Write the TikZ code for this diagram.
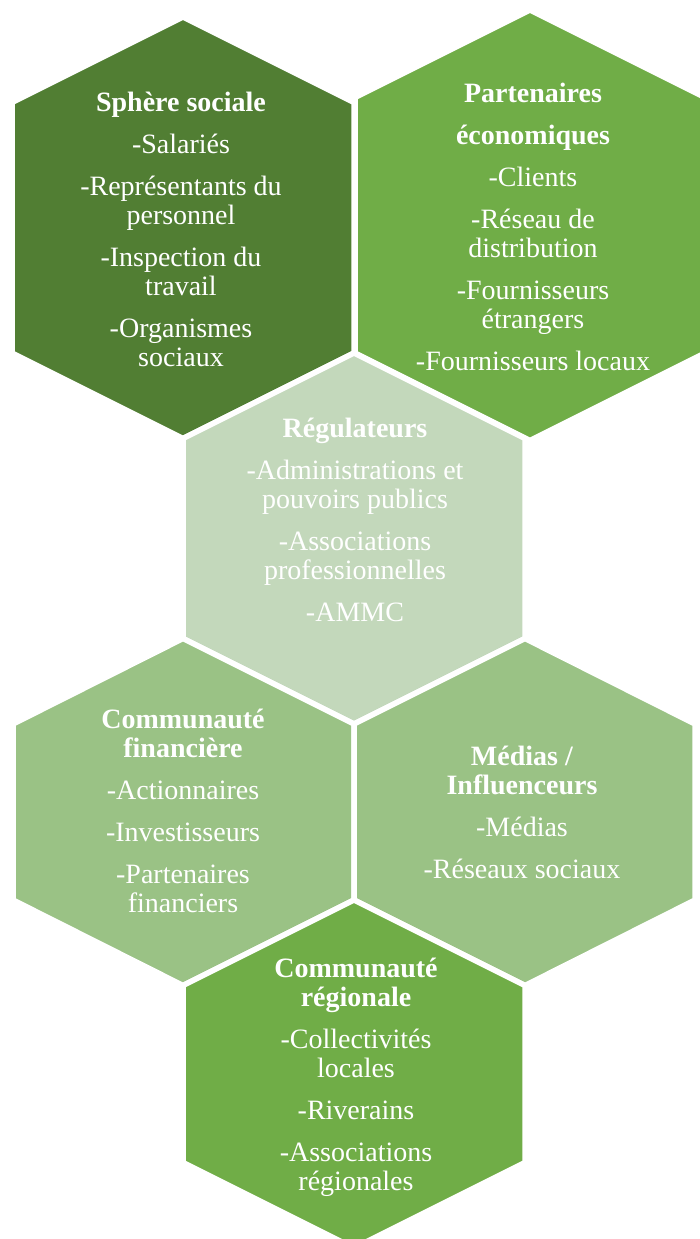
\documentclass[tikz,border=0pt]{standalone}
\usepackage{fontspec}
\setmainfont{Liberation Serif}
\definecolor{hexA}{HTML}{517E33}
\definecolor{hexB}{HTML}{70AD47}
\definecolor{hexC}{HTML}{C3D8BB}
\definecolor{hexD}{HTML}{9AC285}
\newcommand\firstln{\rule{0pt}{20pt}}
\tikzset{
  hexcell/.style={draw=white, line width=5.5pt, line join=round},
  hexlabel/.style={anchor=north, inner sep=0pt, align=center, text=white,
    font=\fontsize{28}{29}\selectfont}
}
\begin{document}
\begin{tikzpicture}[x=1pt, y=-1pt]
\useasboundingbox (0,0) rectangle (700,1239);
\clip (0,0) rectangle (700,1239);
% hexagons
\filldraw[hexcell, fill=hexA] (183,17) -- (354,102.5) -- (354,353) -- (183,438.5) -- (12,353) -- (12,102.5) -- cycle;
\filldraw[hexcell, fill=hexB] (530,10) -- (705,97.5) -- (705,353) -- (530,440.5) -- (355,353) -- (355,97.5) -- cycle;
\filldraw[hexcell, fill=hexC] (354,353) -- (525,438.5) -- (525,638.5) -- (354,724) -- (183,638.5) -- (183,438.5) -- cycle;
\filldraw[hexcell, fill=hexD] (183,638.5) -- (354,724) -- (354,900) -- (183,985.5) -- (13,900) -- (13,724) -- cycle;
\filldraw[hexcell, fill=hexD] (525,638.5) -- (695,724) -- (695,900) -- (525,985.5) -- (354,900) -- (354,724) -- cycle;
\filldraw[hexcell, fill=hexB] (354,900) -- (525,985.5) -- (525,1162.5) -- (354,1248) -- (183,1162.5) -- (183,985.5) -- cycle;
% labels
\node[hexlabel] (social) at (181,91) {\firstln\textbf{Sphère sociale}\\[13pt]-Salariés\\[13pt]-Représentants du\\personnel\\[13pt]-Inspection du\\travail\\[13pt]-Organismes\\sociaux};
\node[hexlabel] (eco) at (533,82) {\firstln\textbf{Partenaires}\\[13pt]\textbf{économiques}\\[13pt]-Clients\\[13pt]-Réseau de\\distribution\\[13pt]-Fournisseurs\\étrangers\\[13pt]-Fournisseurs locaux};
\node[hexlabel] (reg) at (355,417) {\firstln\textbf{Régulateurs}\\[13pt]-Administrations et\\pouvoirs publics\\[13pt]-Associations\\professionnelles\\[13pt]-AMMC};
\node[hexlabel] (fin) at (183,708) {\firstln\textbf{Communauté}\\\textbf{financière}\\[13pt]-Actionnaires\\[13pt]-Investisseurs\\[13pt]-Partenaires\\financiers};
\node[hexlabel] (med) at (522,745) {\firstln\textbf{Médias /}\\\textbf{Influenceurs}\\[13pt]-Médias\\[13pt]-Réseaux sociaux};
\node[hexlabel] (regio) at (356,957) {\firstln\textbf{Communauté}\\\textbf{régionale}\\[13pt]-Collectivités\\locales\\[13pt]-Riverains\\[13pt]-Associations\\régionales};
\end{tikzpicture}
\end{document}
